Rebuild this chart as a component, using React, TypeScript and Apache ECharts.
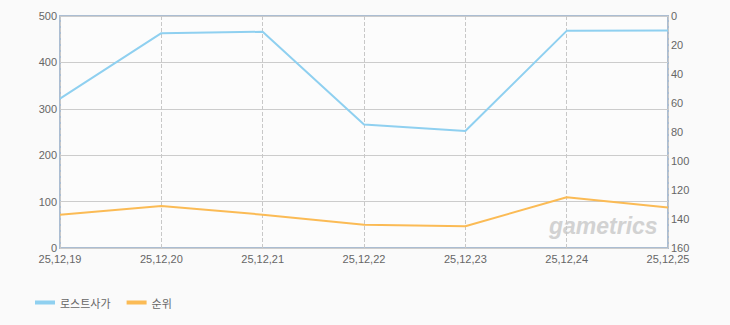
import React, { useEffect, useRef } from "react";
import * as echarts from "echarts";

const categories = ["25,12,19", "25,12,20", "25,12,21", "25,12,22", "25,12,23", "25,12,24", "25,12,25"];
const lostSaga = [322, 463, 466, 266, 252, 468, 469];
const rank = [137, 131, 137, 144, 145, 125, 132];
const leftTicks = { min: 0, max: 500, interval: 100 };
const rightTicks = { min: 0, max: 160, interval: 20 };

const FONT = "Liberation Sans";
const KFONT = "Noto Sans CJK KR";

export default function App() {
  const ref = useRef<HTMLDivElement>(null);
  useEffect(() => {
    document.body.style.margin = "0";
    const chart = echarts.init(ref.current!, null, { renderer: "svg" });
    chart.setOption({
      animation: false,
      backgroundColor: "#fafafa",
      grid: {
        left: 60,
        right: 62,
        top: 16,
        bottom: 77,
        show: true,
        backgroundColor: "#fcfcfc",
        borderColor: "#abbdd2",
        borderWidth: 2,
      },
      legend: {
        left: 30,
        top: 292,
        itemWidth: 20,
        itemHeight: 4,
        itemGap: 16,
        icon: "rect",
        textStyle: { color: "#666", fontSize: 11, fontFamily: KFONT },
        data: ["로스트사가", "순위"],
      },
      xAxis: {
        type: "category",
        data: categories,
        boundaryGap: false,
        axisLine: { show: false },
        axisTick: { show: false },
        axisLabel: { color: "#666", fontSize: 11, fontFamily: FONT, margin: 5, interval: 0 },
        splitLine: { show: true, lineStyle: { color: "#c8c8c8", type: "dashed", width: 1 } },
      },
      yAxis: [
        {
          type: "value",
          ...leftTicks,
          axisLine: { show: false },
          axisTick: { show: false },
          axisLabel: { color: "#666", fontSize: 11, fontFamily: FONT, margin: 3 },
          splitLine: { show: true, lineStyle: { color: "#cccccc", width: 1 } },
        },
        {
          type: "value",
          inverse: true,
          ...rightTicks,
          axisLine: { show: false },
          axisTick: { show: false },
          axisLabel: { color: "#666", fontSize: 11, fontFamily: FONT, margin: 3 },
          splitLine: { show: false },
        },
      ],
      graphic: [
        {
          type: "text",
          left: 549,
          top: 214,
          z: 0,
          style: {
            text: "gametrics",
            fill: "#d2d2d2",
            font: `italic bold 23px ${FONT}`,
          },
        },
      ],
      series: [
        {
          name: "로스트사가",
          type: "line",
          data: lostSaga,
          yAxisIndex: 0,
          showSymbol: false,
          symbol: "none",
          color: "#8fd0f0",
          lineStyle: { width: 2, color: "#8fd0f0" },
          z: 3,
        },
        {
          name: "순위",
          type: "line",
          data: rank,
          yAxisIndex: 1,
          showSymbol: false,
          symbol: "none",
          color: "#fbbb55",
          lineStyle: { width: 2, color: "#fbbb55" },
          z: 3,
        },
      ],
    });
    return () => chart.dispose();
  }, []);
  return <div ref={ref} style={{ position: "absolute", left: 0, top: 0, width: 730, height: 325 }} />;
}
